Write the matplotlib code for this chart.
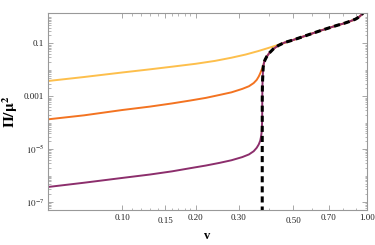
import matplotlib
matplotlib.use("Agg")
import matplotlib.pyplot as plt
from matplotlib.ticker import FixedLocator, FixedFormatter

plt.rcParams['font.family'] = ['Liberation Serif', 'DejaVu Serif']
plt.rcParams['mathtext.fontset'] = 'stix'

# values, as log10(Pi/mu^2)
# upper branch (black dashed)
v_branch = [0.3740, 0.3741, 0.3745, 0.3753, 0.3765, 0.3775, 0.380, 0.384, 0.390,
            0.400, 0.415, 0.435, 0.46, 0.50, 0.55, 0.60, 0.65, 0.708, 0.76,
            0.802, 0.85, 0.90, 0.93, 0.955, 0.975, 1.0]
lp_branch = [-7.4, -3.14, -2.70, -2.38, -2.10, -1.88, -1.74, -1.62, -1.50,
             -1.36, -1.21, -1.08, -0.97, -0.87, -0.74, -0.62, -0.51, -0.40, -0.31,
             -0.25, -0.17, -0.08, 0.0, 0.10, 0.20, 0.38]

v_yellow = [0.05, 0.07, 0.10, 0.13, 0.16, 0.20, 0.24, 0.28, 0.32, 0.36, 0.40, 0.44, 0.48]
lp_yellow = [-2.42, -2.27, -2.10, -1.98, -1.88, -1.77, -1.66, -1.54, -1.42, -1.29,
             -1.16, -1.04, -0.93]

v_orange = [0.05, 0.07, 0.10, 0.13, 0.16, 0.19, 0.22, 0.25, 0.28, 0.31, 0.33, 0.345,
            0.355, 0.362, 0.367, 0.371, 0.374]
lp_orange = [-3.87, -3.72, -3.52, -3.39, -3.27, -3.16, -3.06, -2.95, -2.85, -2.72,
             -2.62, -2.50, -2.38, -2.25, -2.13, -2.02, -1.95]

v_purple = [0.05, 0.07, 0.10, 0.13, 0.16, 0.19, 0.22, 0.25, 0.28, 0.31, 0.33, 0.345,
            0.355, 0.362, 0.367, 0.370, 0.372, 0.373, 0.3737, 0.3740]
lp_purple = [-6.43, -6.27, -6.09, -5.96, -5.84, -5.72, -5.62, -5.52, -5.42, -5.30,
             -5.20, -5.08, -4.95, -4.82, -4.68, -4.52, -4.35, -4.15, -3.9, -3.5]

x_major = [0.10, 0.15, 0.20, 0.30, 0.50, 0.70, 1.00]
x_labels = ["0.10", "0.15", "0.20", "0.30", "0.50", "0.70", "1.00"]
x_minor = [0.11, 0.12, 0.13, 0.14, 0.16, 0.17, 0.18, 0.19, 0.4, 0.6, 0.8, 0.9]
y_major = [1e-7, 1e-5, 1e-3, 1e-1]
y_labels = [r"$10^{-7}$", r"$10^{-5}$", "0.001", "0.1"]


def with_branch(vs, lps):
    # follow the curve, then the upper branch from where it joins
    idx = [i for i, v in enumerate(v_branch) if v > vs[-1] and lp_branch[i] > lps[-1]]
    xs = vs + [v_branch[i] for i in idx]
    ys = lps + [lp_branch[i] for i in idx]
    return xs, [10.0 ** y for y in ys]


fig = plt.figure(figsize=(3.75, 2.45), dpi=100)
ax = fig.add_axes([0.129, 0.143, 0.849, 0.805])

for (vs, lps), c in [((v_yellow, lp_yellow), '#fdbf4c'),
                     ((v_orange, lp_orange), '#f37321'),
                     ((v_purple, lp_purple), '#8c2e6c')]:
    xs, ys = with_branch(vs, lps)
    ax.plot(xs, ys, color=c, lw=1.4, solid_capstyle='round', solid_joinstyle='round')

ax.plot(v_branch, [10.0 ** y for y in lp_branch], color='black', lw=2.2,
        dashes=(2.0, 1.3))

ax.set_xscale('log')
ax.set_yscale('log')
ax.set_xlim(0.05, 1.0)
ax.set_ylim(5e-8, 1.45)

ax.xaxis.set_major_locator(FixedLocator(x_major))
ax.xaxis.set_major_formatter(FixedFormatter(x_labels))
ax.xaxis.set_minor_locator(FixedLocator(x_minor))
ax.xaxis.set_minor_formatter(FixedFormatter([]))

y_minor = [m * 10.0 ** e for e in range(-8, 1) for m in range(1, 10)]
y_minor = [y for y in y_minor if y not in y_major]
ax.yaxis.set_major_locator(FixedLocator(y_major))
ax.yaxis.set_major_formatter(FixedFormatter(y_labels))
ax.yaxis.set_minor_locator(FixedLocator(y_minor))
ax.yaxis.set_minor_formatter(FixedFormatter([]))

ax.tick_params(which='both', direction='in', top=True, right=True,
               color='#999999', labelsize=6.5, labelcolor='#222222', pad=3)
ax.tick_params(which='major', length=3.5, width=0.6)
ax.tick_params(which='minor', length=1.8, width=0.5)
for i in (1, 4):
    ax.xaxis.get_major_ticks()[i].set_pad(5)

for s in ax.spines.values():
    s.set_color('#999999')
    s.set_linewidth(0.8)

ax.set_xlabel('v', fontsize=9, fontweight='bold', labelpad=4)
ax.set_ylabel(r'$\mathbf{\Pi/\mu^2}$', fontsize=11, labelpad=3)

fig.savefig('out.png', dpi=100)
